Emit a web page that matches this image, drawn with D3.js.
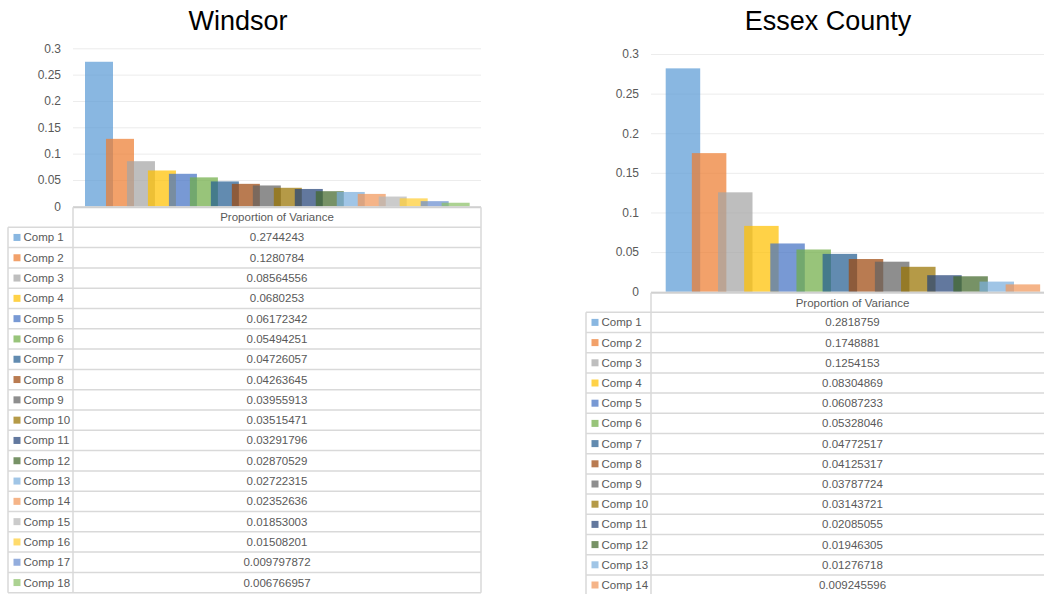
<!DOCTYPE html>
<html>
<head>
<meta charset="utf-8">
<script src="https://cdn.jsdelivr.net/npm/d3@7"></script>
<style>
  html, body { margin: 0; padding: 0; background: #fff; }
  svg { display: block; }
</style>
</head>
<body>
<svg id="chart" width="1044" height="594"></svg>
<script>
// ---------- DATA ----------
const windsorComps = ["Comp 1","Comp 2","Comp 3","Comp 4","Comp 5","Comp 6","Comp 7","Comp 8","Comp 9",
  "Comp 10","Comp 11","Comp 12","Comp 13","Comp 14","Comp 15","Comp 16","Comp 17","Comp 18"];
const windsorValues = [0.2744243, 0.1280784, 0.08564556, 0.0680253, 0.06172342, 0.05494251, 0.04726057,
  0.04263645, 0.03955913, 0.03515471, 0.03291796, 0.02870529, 0.02722315, 0.02352636, 0.01853003,
  0.01508201, 0.009797872, 0.006766957];

const essexComps = ["Comp 1","Comp 2","Comp 3","Comp 4","Comp 5","Comp 6","Comp 7","Comp 8","Comp 9",
  "Comp 10","Comp 11","Comp 12","Comp 13","Comp 14"];
const essexValues = [0.2818759, 0.1748881, 0.1254153, 0.08304869, 0.06087233, 0.05328046, 0.04772517,
  0.04125317, 0.03787724, 0.03143721, 0.02085055, 0.01946305, 0.01276718, 0.009245596];

const yTicks = [0, 0.05, 0.1, 0.15, 0.2, 0.25, 0.3];
const yTickLabels = ["0", "0.05", "0.1", "0.15", "0.2", "0.25", "0.3"];
const seriesHeader = "Proportion of Variance";
const titles = ["Windsor", "Essex County"];

// Office palette
const palette = ["#5B9BD5","#ED7D31","#A5A5A5","#FFC000","#4472C4","#70AD47","#255E91","#9E480E",
  "#636363","#997300","#264478","#43682B","#7CAFDD","#F1975A","#B7B7B7","#FFCD33","#698ED0","#8CC168"];

// ---------- LAYOUT ----------
const panels = [
  { title: titles[0], comps: windsorComps, values: windsorValues, titleX: 238,
    plotLeft: 73, plotRight: 481, yZero: 206.3, yTop: 48.3,
    barStart: 85, step: 20.98, barW: 28, tableLeft: 8, rowTop: 227.3, rowH: 20.3 },
  { title: titles[1], comps: essexComps, values: essexValues, titleX: 828,
    plotLeft: 651, plotRight: 1054, yZero: 291.7, yTop: 54,
    barStart: 665.7, step: 26.15, barW: 34.5, tableLeft: 586, rowTop: 312.3, rowH: 20.2 }
];

const svg = d3.select("#chart");
const textColor = "#595959";
const border = "#d9d9d9";
const font = "'Liberation Sans', Arial, sans-serif";

panels.forEach(p => {
  const g = svg.append("g");
  const color = d3.scaleOrdinal().domain(p.comps).range(palette);
  const y = d3.scaleLinear().domain([0, 0.3]).range([p.yZero, p.yTop]);
  const x = d3.scaleBand().domain(p.comps)
    .range([p.barStart, p.barStart + p.comps.length * p.step]).padding(0);

  // title
  g.append("text").attr("x", p.titleX).attr("y", 29.5)
    .attr("text-anchor", "middle").attr("font-family", font)
    .attr("font-size", 27).attr("fill", "#000").text(p.title);

  // y axis with gridlines
  const axis = d3.axisLeft(y).tickValues(yTicks)
    .tickFormat((d, i) => yTickLabels[i])
    .tickSize(-(p.plotRight - p.plotLeft)).tickPadding(12);
  const ag = g.append("g").attr("transform", `translate(${p.plotLeft},0)`).call(axis);
  ag.select(".domain").remove();
  ag.selectAll(".tick line").attr("stroke", "#ececec").attr("stroke-width", 1);
  ag.selectAll(".tick text").attr("fill", textColor).attr("font-size", 12)
    .attr("font-family", font);

  // bars
  g.selectAll("rect.bar").data(p.values).join("rect")
    .attr("class", "bar")
    .attr("x", (d, i) => x(p.comps[i]))
    .attr("y", d => y(d))
    .attr("width", p.barW)
    .attr("height", d => y(0) - y(d))
    .attr("fill", (d, i) => color(p.comps[i]))
    .attr("fill-opacity", 0.72);

  // axis line / header top
  g.append("line").attr("x1", p.plotLeft).attr("x2", p.plotRight)
    .attr("y1", p.yZero + 1).attr("y2", p.yZero + 1)
    .attr("stroke", "#d0d0d0").attr("stroke-width", 2);

  // table
  const n = p.comps.length;
  const tableBottom = p.rowTop + n * p.rowH;
  const tg = g.append("g").attr("font-family", font);
  // header cell
  tg.append("line").attr("x1", p.plotLeft).attr("x2", p.plotLeft)
    .attr("y1", p.yZero + 1).attr("y2", tableBottom).attr("stroke", border).attr("stroke-width", 1.5);
  tg.append("line").attr("x1", p.plotRight).attr("x2", p.plotRight)
    .attr("y1", p.yZero + 1).attr("y2", tableBottom).attr("stroke", border).attr("stroke-width", 1.5);
  tg.append("line").attr("x1", p.tableLeft).attr("x2", p.tableLeft)
    .attr("y1", p.rowTop).attr("y2", tableBottom).attr("stroke", border).attr("stroke-width", 1.5);
  tg.append("text").attr("x", (p.plotLeft + p.plotRight) / 2)
    .attr("y", (p.yZero + p.rowTop) / 2 + 4.5).attr("text-anchor", "middle")
    .attr("font-size", 11.5).attr("fill", textColor).text(seriesHeader);

  const rows = d3.range(n + 1);
  tg.selectAll("line.row").data(rows).join("line").attr("class", "row")
    .attr("x1", p.tableLeft).attr("x2", p.plotRight)
    .attr("y1", i => p.rowTop + i * p.rowH).attr("y2", i => p.rowTop + i * p.rowH)
    .attr("stroke", border).attr("stroke-width", 1.5);

  p.comps.forEach((c, i) => {
    const cy = p.rowTop + (i + 0.5) * p.rowH;
    tg.append("rect").attr("x", p.tableLeft + 5.5).attr("y", cy - 3.5)
      .attr("width", 7).attr("height", 7)
      .attr("fill", color(c)).attr("fill-opacity", 0.72);
    tg.append("text").attr("x", p.tableLeft + 15.5).attr("y", cy + 4)
      .attr("font-size", 11.5).attr("fill", textColor).text(c);
    tg.append("text").attr("x", (p.plotLeft + p.plotRight) / 2).attr("y", cy + 4)
      .attr("text-anchor", "middle").attr("font-size", 11.5).attr("fill", textColor)
      .text(String(p.values[i]));
  });
});
</script>
</body>
</html>
